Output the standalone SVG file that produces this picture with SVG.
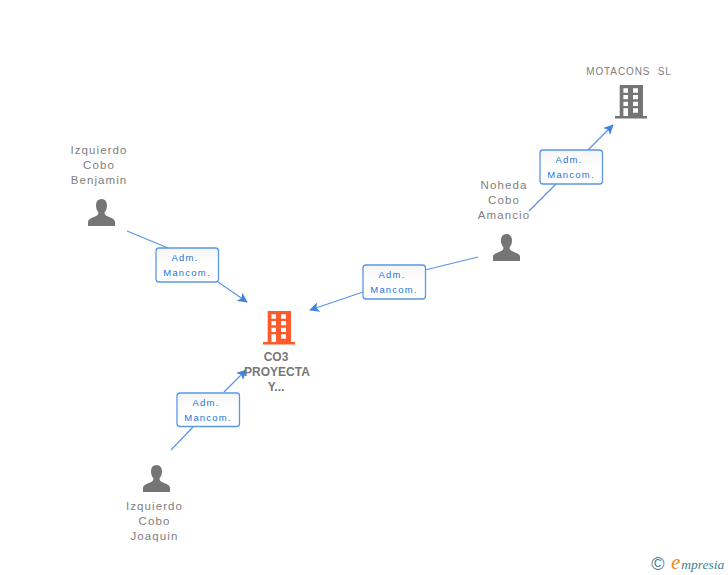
<svg xmlns="http://www.w3.org/2000/svg" width="728" height="575" viewBox="0 0 728 575">
<style>
.n{font-family:"Liberation Sans",Arial,sans-serif;font-size:11.500px;fill:#808080;text-anchor:middle;letter-spacing:1.100px}
.u{font-size:10px;letter-spacing:.9px}
.b{font-size:12px;font-weight:bold;letter-spacing:0;fill:#777}
.l{font-family:"Liberation Sans",Arial,sans-serif;font-size:9.500px;fill:#2474de;text-anchor:middle;letter-spacing:1.200px}
.box{fill:url(#g);stroke:#5b97e8;stroke-width:1.300}
.c{fill:none;stroke:#5a95e6;stroke-width:1.200;marker-end:url(#a)}
.c2{fill:none;stroke:#5a95e6;stroke-width:1.200}
</style>
<defs>
<linearGradient id="g" x1="0" y1="0" x2="0" y2="1"><stop offset="0" stop-color="#f5f5f5"/><stop offset="0.5" stop-color="#fff"/></linearGradient>
<marker id="a" viewBox="0 0 12 12" refX="11" refY="6" markerWidth="10" markerHeight="10" markerUnits="userSpaceOnUse" orient="auto"><path d="M0 0L12 6L0 12L3 6Z" fill="#3f82e2"/></marker>
<symbol id="person" viewBox="0 0 27 27" overflow="visible"><path d="M13.500 0C10 0 8 2.800 8 6.500C8 9.500 9 11.800 10.500 13.500C10.500 15.500 9.500 16.500 6 18C2 19.500 0 20.500 0 23L0 27L27 27L27 23C27 20.500 25 19.500 21 18C17.500 16.500 16.500 15.500 16.500 13.500C18 11.800 19 9.500 19 6.500C19 2.800 17 0 13.500 0Z"/></symbol>
<symbol id="bld" viewBox="0 0 32 34" overflow="visible"><path fill-rule="evenodd" d="M4.700 0H28V31H32V33.500H0V31H4.700ZM8.400 3.300V7.700H13V3.300ZM18 3.300V7.700H23V3.300ZM8.400 10V14.300H13V10ZM18 10V14.300H23V10ZM8.400 16.700V21H13V16.700ZM18 16.700V21H23V16.700ZM8.400 23.300V31H13V23.300ZM18 23.300V27.700H23V23.300Z"/></symbol>
</defs>
<g id="connectors">
<path class="c2" d="M127 231L168 248"/><path class="c" d="M218 282L247 302"/>
<path class="c2" d="M478 257L425 270"/><path class="c" d="M363 292L310 310"/>
<path class="c2" d="M529 211L556 184"/><path class="c" d="M588 150L613 125"/>
<path class="c2" d="M171 450L193 427"/><path class="c" d="M224 392L246 370"/>
</g>
<g id="edge-label-1"><rect class="box" x="156" y="248" width="62.500" height="34" rx="3"/><text class="l" x="185" y="261">Adm.</text><text class="l" x="187" y="276">Mancom.</text></g>
<g id="edge-label-2"><rect class="box" x="363" y="265" width="62.500" height="34" rx="3"/><text class="l" x="392" y="278">Adm.</text><text class="l" x="394" y="293">Mancom.</text></g>
<g id="edge-label-3"><rect class="box" x="540" y="150" width="62.500" height="34" rx="3"/><text class="l" x="569" y="163">Adm.</text><text class="l" x="571" y="178">Mancom.</text></g>
<g id="edge-label-4"><rect class="box" x="177" y="393" width="62.500" height="33.500" rx="3"/><text class="l" x="206" y="406">Adm.</text><text class="l" x="208" y="421">Mancom.</text></g>
<g id="node-benjamin"><text class="n" x="99" y="154">Izquierdo</text><text class="n" x="99" y="169">Cobo</text><text class="n" x="99" y="184">Benjamin</text><use href="#person" x="88" y="199" width="27" height="27" fill="#757575"/></g>
<g id="node-amancio"><text class="n" x="504" y="189">Noheda</text><text class="n" x="504" y="204">Cobo</text><text class="n" x="504" y="219">Amancio</text><use href="#person" x="493" y="234" width="27" height="27" fill="#757575"/></g>
<g id="node-joaquin"><use href="#person" x="143" y="465" width="27" height="27" fill="#757575"/><text class="n" x="154.500" y="510">Izquierdo</text><text class="n" x="154.500" y="525">Cobo</text><text class="n" x="154.500" y="540">Joaquin</text></g>
<g id="node-motacons"><text class="n u" x="629" y="75" xml:space="preserve">MOTACONS  SL</text><use href="#bld" x="615" y="85" width="32" height="34" fill="#757575"/></g>
<g id="node-co3"><use href="#bld" x="263" y="311" width="32" height="34" fill="#ff5a2c"/><text class="n b" x="276" y="361">CO3</text><text class="n b" x="277" y="376">PROYECTA</text><text class="n b" x="276" y="391">Y...</text></g>
<g id="logo"><text x="658" y="570" font-family="Liberation Sans,sans-serif" font-size="18" fill="#3f7f96" text-anchor="middle">©</text><text x="671" y="569" font-family="Liberation Serif,serif" font-style="italic" font-size="13.500" fill="#3f7f96"><tspan font-size="21" fill="#f08a1d">e</tspan><tspan dx="1">mpresia</tspan></text></g>
</svg>
